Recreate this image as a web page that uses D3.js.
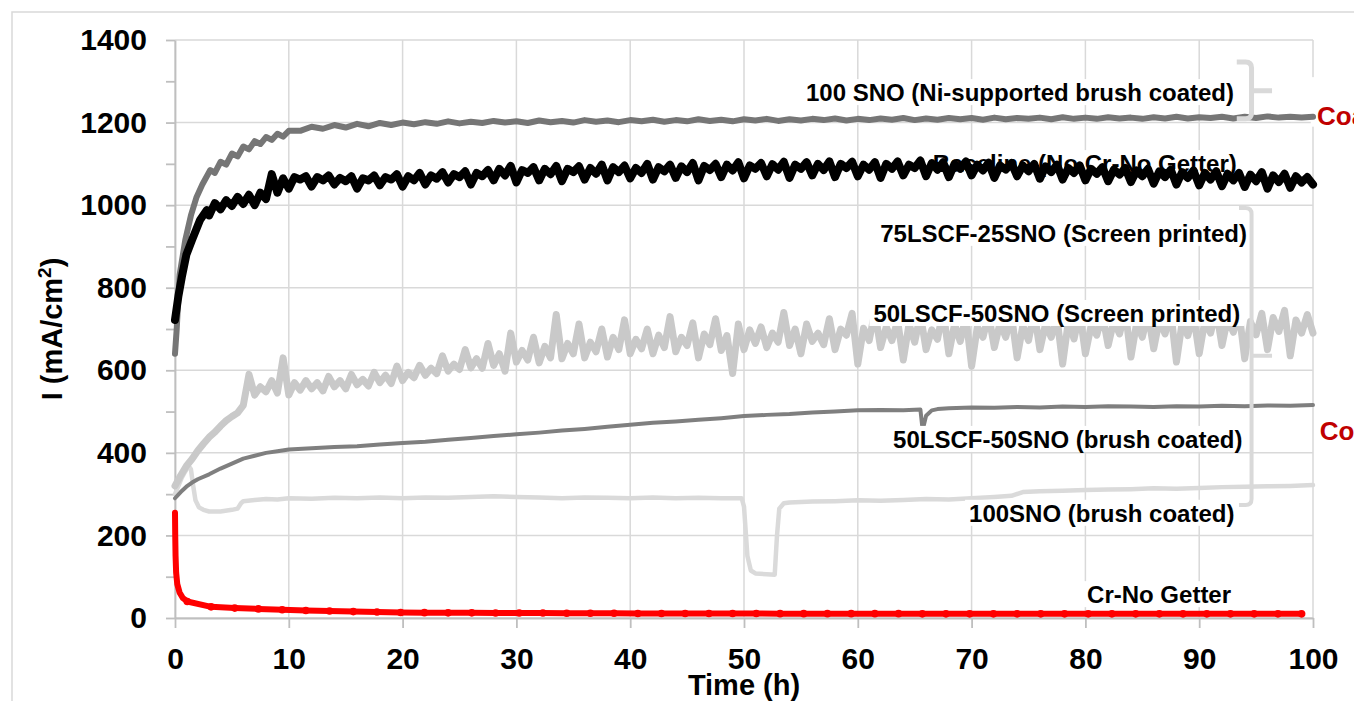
<!DOCTYPE html>
<html>
<head>
<meta charset="utf-8">
<script src="https://cdn.jsdelivr.net/npm/d3@7"></script>
<style>
  html, body { margin: 0; padding: 0; background: #ffffff; }
  svg { display: block; }
  text { font-family: "Liberation Sans", Arial, Helvetica, sans-serif; font-weight: bold; }
</style>
</head>
<body>
<svg id="chart" width="1354" height="701"></svg>
<script>
// ---------------- DATA ----------------
const xTickValues = [0, 10, 20, 30, 40, 50, 60, 70, 80, 90, 100];
const yTickValues = [0, 200, 400, 600, 800, 1000, 1200, 1400];
const yMinorTickValues = [0, 100, 200, 300, 400, 500, 600, 700, 800, 900, 1000, 1100, 1200, 1300, 1400];

const xTitle = "Time (h)";
const yTitle = "I (mA/cm";

// 100 SNO (Ni-supported brush coated)
const niEarlyTime = [0, 0.15, 0.4, 0.9, 1.4, 1.9, 2.4, 3.1, 3.5, 4, 4.5, 5, 5.5, 6, 6.5, 7, 7.5, 8, 8.5, 9, 9.5, 10];
const niLateTime = d3.range(11, 100.5, 1);
const niValue = [
  640, 700, 830, 915, 975, 1020, 1050, 1085, 1078, 1105, 1098, 1125, 1118, 1142, 1135, 1155, 1148, 1165, 1158, 1173, 1166, 1180,
  1180, 1190, 1185, 1194, 1188, 1197, 1191, 1199, 1194, 1200,
  1196, 1201, 1197, 1203, 1198, 1202, 1199, 1204, 1200, 1203,
  1199, 1205, 1201, 1204, 1200, 1206, 1202, 1205, 1201, 1206,
  1203, 1207, 1202, 1206, 1203, 1208, 1204, 1207, 1203, 1208,
  1205, 1209, 1204, 1208, 1205, 1209, 1206, 1210, 1205, 1209,
  1206, 1210, 1207, 1211, 1206, 1210, 1207, 1211, 1208, 1211,
  1207, 1212, 1208, 1211, 1209, 1212, 1208, 1213, 1209, 1212,
  1209, 1213, 1210, 1212, 1209, 1213, 1210, 1214, 1210, 1213,
  1211, 1214, 1210, 1214, 1211, 1215, 1212, 1214, 1212, 1214
];

// Baseline (No Cr-No Getter)
const baseEarlyTime = [0, 0.3, 0.6, 1, 1.5, 2.2, 2.8];
const baseLateTime = d3.range(3, 100.25, 0.5);
const baseValue = [
  722, 780, 826, 880, 916, 964, 988,
  975, 1005, 990, 1012, 998, 1020, 1003, 1025, 1000, 1030,
  1015, 1075, 1030, 1065, 1040, 1068, 1062, 1070, 1045, 1068,
  1060, 1072, 1050, 1066, 1058, 1070, 1040, 1065, 1060, 1072,
  1048, 1068, 1062, 1075, 1045, 1070, 1060, 1078, 1050, 1072,
  1064, 1080, 1055, 1075, 1068, 1082, 1050, 1078, 1070, 1085,
  1060, 1088, 1072, 1095, 1055, 1085, 1078, 1092, 1060, 1088,
  1075, 1095, 1058, 1088, 1080, 1094, 1062, 1090, 1076, 1098,
  1060, 1092, 1080, 1096, 1065, 1090, 1078, 1100, 1062, 1092,
  1082, 1098, 1066, 1094, 1080, 1102, 1060, 1095, 1085, 1100,
  1068, 1098, 1084, 1104, 1065, 1096, 1088, 1102, 1070, 1099,
  1086, 1105, 1066, 1098, 1088, 1104, 1072, 1100, 1085, 1106,
  1068, 1100, 1090, 1105, 1070, 1098, 1086, 1104, 1066, 1100,
  1088, 1106, 1072, 1098, 1090, 1108, 1070, 1102, 1086, 1104,
  1068, 1100, 1088, 1106, 1072, 1098, 1084, 1103, 1066, 1096,
  1086, 1102, 1070, 1096, 1082, 1100, 1064, 1094, 1080, 1098,
  1062, 1090, 1078, 1096, 1060, 1088, 1076, 1092, 1058, 1086,
  1074, 1090, 1056, 1084, 1070, 1088, 1052, 1082, 1068, 1086,
  1050, 1080, 1066, 1084, 1048, 1078, 1062, 1082, 1046, 1076,
  1060, 1078, 1044, 1074, 1058, 1080, 1040, 1072, 1056, 1076,
  1042, 1070, 1055, 1068, 1050
];

// 50LSCF-50SNO (Screen printed)
const spEarlyTime = [0, 0.5, 1, 1.5, 2, 2.5, 3, 3.5, 4, 4.5, 5, 5.5, 6];
const spLateTime = d3.range(6.5, 100.25, 0.5);
const spValue = [
  320, 345, 368, 385, 405, 422, 438, 450, 465, 478, 488, 497, 515,
  590, 540, 560, 548, 575, 545, 630, 540, 570, 552,
  575, 555, 570, 550, 585, 560, 575, 555, 590, 565,
  578, 562, 595, 570, 588, 568, 610, 575, 595, 582,
  612, 588, 605, 592, 635, 598, 615, 602, 650, 606,
  628, 605, 665, 612, 640, 598, 690, 620, 648, 625,
  680, 618, 658, 630, 735, 628, 665, 640, 712, 630,
  668, 645, 700, 632, 680, 650, 722, 640, 675, 652,
  700, 640, 685, 655, 730, 645, 680, 660, 715, 630,
  688, 662, 725, 648, 684, 592, 712, 650, 698, 665,
  705, 655, 690, 668, 740, 660, 700, 640, 712, 670,
  690, 662, 725, 650, 700, 685, 738, 615, 702, 672,
  742, 655, 705, 672, 720, 625, 712, 668, 735, 650,
  698, 675, 745, 640, 712, 670, 730, 610, 705, 680,
  735, 655, 715, 680, 735, 630, 708, 672, 742, 650,
  712, 680, 728, 615, 718, 676, 740, 640, 708, 685,
  735, 660, 720, 688, 745, 632, 714, 680, 738, 652,
  722, 688, 742, 620, 716, 684, 735, 640, 720, 690,
  745, 660, 726, 692, 740, 628, 718, 686, 738, 650,
  728, 694, 745, 635, 722, 690, 735, 690
];

// 50LSCF-50SNO (brush coated)
const bcTime = [0, 0.5, 1, 1.5, 2, 3, 4, 5, 6, 7, 8, 9, 10, 12, 14, 16, 18, 20, 22, 24, 26, 28, 30, 32, 34, 36, 38, 40,
  42, 44, 46, 48, 50, 52, 54, 56, 58, 60, 62, 64, 65.5, 65.7, 66.0, 66.5, 67, 68, 70, 72, 74, 76, 78, 80, 82, 84, 86,
  88, 90, 92, 94, 96, 98, 100];
const bcValue = [290, 305, 318, 328, 336, 348, 362, 374, 386, 393, 400, 404, 408, 411, 414, 416, 420, 424, 427, 432, 436,
  441, 445, 449, 454, 458, 463, 468, 473, 476, 480, 484, 489, 492, 494, 498, 500, 503, 504, 503, 505, 455, 490, 503,
  506, 508, 510, 509, 511, 510, 512, 511, 513, 512, 511, 513, 512, 514, 513, 515, 514, 516];

// 100SNO (brush coated)
const snoTime = [0, 0.3, 0.6, 0.9, 1.2, 1.4, 1.6, 1.8, 2.1, 2.5, 3, 4, 5, 5.5, 5.8, 6, 7, 8, 9, 10, 12, 14, 16, 18, 20, 22,
  24, 26, 28, 30, 32, 34, 36, 38, 40, 42, 44, 46, 48, 49.8, 50, 50.3, 50.6, 51, 52, 52.7, 52.9, 53.1, 53.5, 54, 56, 58,
  60, 62, 64, 66, 68, 70, 72, 73.5, 74.5, 76, 78, 80, 82, 84, 86, 88, 90, 92, 94, 96, 98, 100];
const snoValue = [300, 320, 340, 355, 368, 360, 320, 285, 268, 262, 258, 258, 262, 265, 278, 283, 286, 288, 287, 290, 289,
  291, 290, 292, 290, 292, 291, 293, 295, 293, 292, 290, 292, 291, 290, 292, 290, 291, 290, 290, 270, 150, 115, 108, 106,
  105, 200, 265, 278, 280, 282, 283, 285, 284, 286, 288, 287, 290, 293, 296, 305, 307, 308, 310, 311, 312, 314, 313,
  315, 317, 318, 319, 320, 322];

// Cr-No Getter
const crTime = [0, 0.02, 0.05, 0.1, 0.2, 0.4, 0.7, 1.08, 3.17, 5.25, 7.33, 9.42, 11.5, 13.58, 15.67, 17.75, 19.83, 21.92,
  24, 26.08, 28.17, 30.25, 32.33, 34.42, 36.5, 38.58, 40.67, 42.75, 44.83, 46.92, 49, 51.08, 53.17, 55.25, 57.33, 59.42,
  61.5, 63.58, 65.67, 67.75, 69.83, 71.92, 74, 76.08, 78.17, 80.25, 82.33, 84.42, 86.5, 88.58, 90.67, 92.75, 94.83,
  96.92, 99];
const crValue = [255, 200, 150, 110, 82, 62, 48, 40, 27, 24, 22, 20, 18, 17, 15.5, 14.5, 13.5, 13, 12.5, 12.5, 12, 12,
  12, 11.5, 11.5, 11.5, 11, 11, 11, 11, 11, 11, 10.5, 10.5, 10.5, 10.5, 10.5, 10.5, 10, 10, 10, 10, 10, 10, 10, 10, 10,
  10, 10, 10, 10, 10, 10, 10, 10];

const seriesNames = [
  "100 SNO (Ni-supported brush coated)",
  "Baseline (No Cr-No Getter)",
  "75LSCF-25SNO (Screen printed)",
  "50LSCF-50SNO (Screen printed)",
  "50LSCF-50SNO (brush coated)",
  "100SNO (brush coated)",
  "Cr-No Getter"
];
const sideNotes = ["Coatings", "Coatings"];

// ---------------- LAYOUT ----------------
const W = 1354, H = 701;
const plot = { left: 175, right: 1313, top: 40, bottom: 618 };
const x = d3.scaleLinear().domain([0, 100]).range([plot.left, plot.right]);
const y = d3.scaleLinear().domain([0, 1400]).range([plot.bottom, plot.top]);

function pts(times, values) {
  if (times.length !== values.length) console.error("length mismatch", times.length, values.length);
  return times.map((t, i) => [t, values[i]]);
}
const niData = pts(niEarlyTime.concat(niLateTime), niValue);
const baseData = pts(baseEarlyTime.concat(baseLateTime), baseValue);
const spData = pts(spEarlyTime.concat(spLateTime), spValue);
const bcData = pts(bcTime, bcValue);
const snoData = pts(snoTime, snoValue);
const crData = pts(crTime, crValue);

const svg = d3.select("#chart");
svg.append("rect").attr("width", W).attr("height", H).attr("fill", "#ffffff");
// outer chart border (cropped)
svg.append("rect").attr("x", 12).attr("y", 12).attr("width", 1500).attr("height", 1000)
  .attr("fill", "none").attr("stroke", "#d9d9d9").attr("stroke-width", 1.5);

const gridColor = "#d9d9d9";
const grid = svg.append("g");
grid.selectAll("line.v").data(xTickValues).join("line")
  .attr("x1", d => x(d)).attr("x2", d => x(d)).attr("y1", plot.top).attr("y2", plot.bottom)
  .attr("stroke", gridColor).attr("stroke-width", 1.5);
grid.selectAll("line.h").data(yTickValues).join("line")
  .attr("x1", plot.left).attr("x2", plot.right).attr("y1", d => y(d)).attr("y2", d => y(d))
  .attr("stroke", gridColor).attr("stroke-width", 1.5);

// white box of the cropped side note
svg.append("rect").attr("x", x(99.8)).attr("y", y(1310)).attr("width", 60).attr("height", y(1190) - y(1310))
  .attr("fill", "#ffffff");

// axes
const axisColor = "#bfbfbf";
const yAxis = d3.axisLeft(y).tickValues(yMinorTickValues).tickSize(9).tickSizeOuter(0).tickPadding(19)
  .tickFormat(d => (yTickValues.includes(d) ? d : ""));
const gy = svg.append("g").attr("transform", `translate(${plot.left},0)`).call(yAxis);
const xAxis = d3.axisBottom(x).tickValues(xTickValues).tickSize(10).tickSizeOuter(0).tickPadding(20);
const gx = svg.append("g").attr("transform", `translate(0,${plot.bottom})`).call(xAxis);
[gx, gy].forEach(g => {
  g.select(".domain").attr("stroke", axisColor).attr("stroke-width", 1.8);
  g.selectAll(".tick line").attr("stroke", axisColor).attr("stroke-width", 1.8);
  g.selectAll(".tick text").attr("fill", "#000").style("font-size", "30px")
    .style("font-family", '"Liberation Sans", Arial, sans-serif').style("font-weight", "bold");
});

// axis titles
svg.append("text").attr("x", (plot.left + plot.right) / 2).attr("y", 695).attr("text-anchor", "middle")
  .style("font-size", "29px").attr("fill", "#000").text(xTitle);
const yt = svg.append("text").attr("transform", `translate(62,${(plot.top + plot.bottom) / 2}) rotate(-90)`)
  .attr("text-anchor", "middle").style("font-size", "29px").attr("fill", "#000");
yt.append("tspan").text(yTitle);
yt.append("tspan").attr("dy", -11).style("font-size", "19px").text("2");
yt.append("tspan").attr("dy", 11).text(")");

const line = d3.line().x(d => x(d[0])).y(d => y(d[1]));
const series = svg.append("g").attr("fill", "none").attr("stroke-linejoin", "round").attr("stroke-linecap", "round");
series.append("path").datum(snoData).attr("d", line).attr("stroke", "#dadada").attr("stroke-width", 4.5);
series.append("path").datum(bcData).attr("d", line).attr("stroke", "#7f7f7f").attr("stroke-width", 4);
series.append("path").datum(spData).attr("d", line).attr("stroke", "#c9c9c9").attr("stroke-width", 7);
series.append("path").datum(niData).attr("d", line).attr("stroke", "#767676").attr("stroke-width", 6);
series.append("path").datum(crData).attr("d", line).attr("stroke", "#ff0000").attr("stroke-width", 6);
svg.append("g").selectAll("circle").data(crData.filter(d => d[0] >= 1)).join("circle")
  .attr("cx", d => x(d[0])).attr("cy", d => y(d[1])).attr("r", 3.8).attr("fill", "#ff0000");

// labels with white boxes (right end, baseline given in data coordinates)
const labelAnchorT = [93.06, 93.3, 94.2, 93.6, 93.8, 93.1, 92.8];
const labelAnchorV = [1252, 1080, 911, 717, 412, 233, 36];
const labelLayer = svg.append("g");
seriesNames.forEach((name, i) => {
  const g = labelLayer.append("g");
  const r = g.append("rect").attr("fill", "#ffffff");
  const t = g.append("text").attr("x", x(labelAnchorT[i])).attr("y", y(labelAnchorV[i]))
    .attr("text-anchor", "end").style("font-size", "24px").attr("fill", "#000").text(name);
  const bb = t.node().getBBox();
  r.attr("x", bb.x - 4).attr("y", bb.y).attr("width", bb.width + 8).attr("height", bb.height - 1);
});

// baseline series drawn over its own label
svg.append("path").datum(baseData).attr("d", line).attr("fill", "none").attr("stroke", "#000000")
  .attr("stroke-width", 8).attr("stroke-linejoin", "round").attr("stroke-linecap", "round");

// braces
function brace(tLeft, tSpine, tTip, vTop, vMid, vBottom) {
  const xl = x(tLeft), xs = x(tSpine), xt = x(tTip), yt0 = y(vTop), ym = y(vMid), yb = y(vBottom);
  return `M${xl},${yt0} H${xs - 6} Q${xs},${yt0} ${xs},${yt0 + 6} V${yb - 6} Q${xs},${yb} ${xs - 6},${yb} H${xl}` +
    ` M${xs},${ym} H${xt}`;
}
svg.append("path").attr("d", brace(93.3, 94.6, 96.4, 1347, 1277, 1209)).attr("fill", "none")
  .attr("stroke", "#d9d9d9").attr("stroke-width", 5);
svg.append("path").attr("d", brace(93.5, 94.6, 96.4, 993, 635, 274)).attr("fill", "none")
  .attr("stroke", "#d9d9d9").attr("stroke-width", 4);

// cropped red side notes
const noteT = [100.35, 100.6];
const noteV = [1194, 431];
sideNotes.forEach((s, i) => {
  svg.append("text").attr("x", x(noteT[i])).attr("y", y(noteV[i])).style("font-size", "26px")
    .attr("fill", "#c00000").text(s);
});
</script>
</body>
</html>
